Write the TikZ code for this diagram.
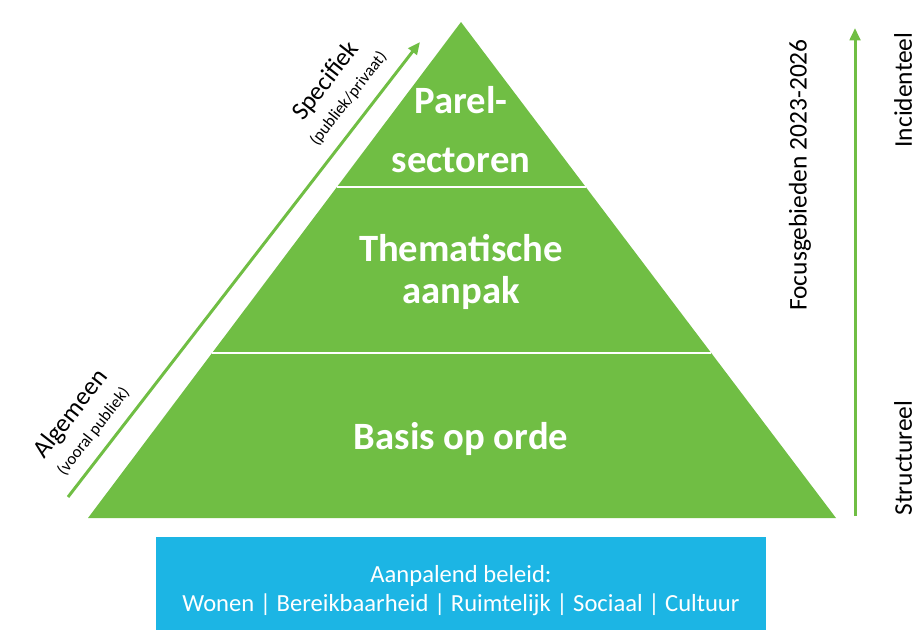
\documentclass[tikz,border=0pt]{standalone}
\usepackage{fontspec}
\setmainfont{Carlito}
\usetikzlibrary{calc,arrows.meta}
\definecolor{pyrgreen}{HTML}{70BE44}
\definecolor{beleidblue}{HTML}{1CB5E4}
\newcommand{\kleintekst}{\fontsize{9.5}{10}\selectfont}
\tikzset{
  laag/.style={text=white,font=\bfseries\fontsize{22}{26}\selectfont,anchor=base},
  zijtekst/.style={font=\fontsize{14.5}{16}\selectfont},
  schuin/.style={zijtekst,rotate=52,align=center},
  pijl/.style={draw=pyrgreen,line width=1.7pt,->}
}

\begin{document}
\begin{tikzpicture}[x=0.02cm,y=-0.02cm,>={Triangle[length=7pt,width=6pt]}]
      \useasboundingbox (0,0) rectangle (919,630);
      \coordinate(bl) at (88,518);
      \coordinate(br) at (836,518);
      \coordinate(top) at (461,22);
      \fill[pyrgreen] (bl) -- (top) -- (br) -- cycle;
      \draw[white,line width=1.2pt] ($(bl)!0.333!(top)$) -- ($(br)!0.333!(top)$);
      \draw[white,line width=1.2pt] ($(bl)!0.667!(top)$) -- ($(br)!0.667!(top)$);
      \node[laag](parel) at (461,113) {Parel-};
      \node[laag](sectoren) at (461,172) {sectoren};
      \node[laag](thema) at (461,261) {Thematische};
      \node[laag](aanpak) at (461,303) {aanpak};
      \node[laag](basis) at (461,449) {Basis op orde};
      \coordinate(algstart) at (68,497);
      \coordinate(specend) at (420,42);
      \draw[pijl] (algstart) -- (specend);
      \node[schuin](specifiek) at (336,89) {Specifiek\\[-1pt]{\kleintekst (publiek/privaat)}};
      \node[schuin](algemeen) at (81,422) {Algemeen\\[-1pt]{\kleintekst (vooral publiek)}};
      \coordinate(structstart) at (855,516);
      \coordinate(incidend) at (855,28);
      \draw[pijl] (structstart) -- (incidend);
      \node[zijtekst,rotate=90](focus) at (800,175) {Focusgebieden 2023-2026};
      \node[zijtekst,rotate=90](incidenteel) at (903,90) {Incidenteel};
      \node[zijtekst,rotate=90](structureel) at (903,458) {Structureel};
      \fill[beleidblue] (156,537) rectangle (766,630);
      \node[text=white,font=\fontsize{14}{16}\selectfont,anchor=base](beleid) at (461,582) {Aanpalend beleid:};
      \node[text=white,font=\fontsize{14}{16}\selectfont,anchor=base](domeinen) at (461,611) {Wonen | Bereikbaarheid | Ruimtelijk | Sociaal | Cultuur};
    \end{tikzpicture}
\end{document}
